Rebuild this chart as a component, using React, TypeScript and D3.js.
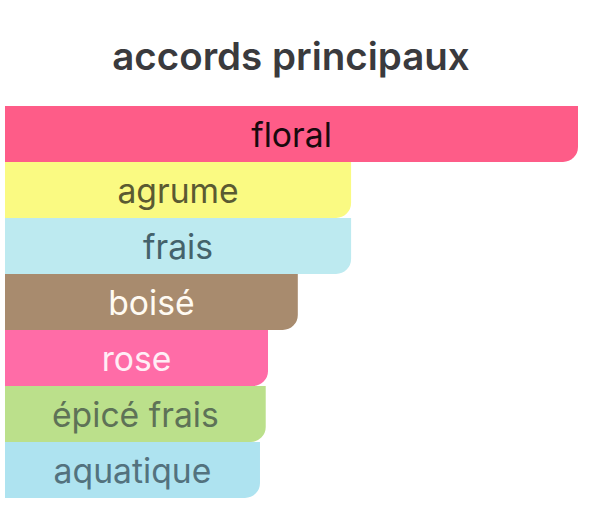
import React from "react";
import * as d3 from "d3";

const title = "accords principaux";
const categories = ["floral", "agrume", "frais", "boisé", "rose", "épicé frais", "aquatique"];
const values = [100, 60.4, 60.4, 51.1, 45.9, 45.5, 44.5];
const barColors = ["#FE5C88", "#FAFA82", "#BDEAF0", "#A88B6E", "#FF6CA7", "#BBE08B", "#AEE3F0"];
const textColors = ["#180a0e", "#5a5a32", "#44626b", "#fffaf2", "#ffeef6", "#5e7257", "#53727e"];

const W = 600;
const H = 505;
const left = 5;
const right = 578;
const top = 106;
const bottom = 498;
const r = 15;

function barPath(x0: number, y0: number, x1: number, y1: number, rad: number) {
  const p = d3.path();
  p.moveTo(x0, y0);
  p.lineTo(x1, y0);
  p.lineTo(x1, y1 - rad);
  p.arcTo(x1, y1, x1 - rad, y1, rad);
  p.lineTo(x0, y1);
  p.closePath();
  return p.toString();
}

export default function App() {
  const x = d3.scaleLinear().domain([0, 100]).range([left, right]);
  const y = d3.scaleBand<string>().domain(categories).range([top, bottom]).padding(0);
  const bh = y.bandwidth();
  return (
    <svg width={W} height={H} style={{ position: "absolute", left: 0, top: 0, background: "#fff" }}>
      <text
        x={291}
        y={69.5}
        textAnchor="middle"
        fontFamily="Inter, 'Liberation Sans', Arial, sans-serif"
        fontWeight={600}
        fontSize={38.5}
        fill="#3a3a3d"
      >
        {title}
      </text>
      {categories.map((c, i) => {
        const y0 = y(c)!;
        const x1 = x(values[i]);
        return (
          <g key={c}>
            <path d={barPath(left, y0, x1, y0 + bh, r)} fill={barColors[i]} />
            <text
              x={(left + x1) / 2}
              y={y0 + bh / 2 + 12.5}
              textAnchor="middle"
              fontFamily="Inter, 'Liberation Sans', Arial, sans-serif"
              fontSize={33.7}
              fill={textColors[i]}
            >
              {c}
            </text>
          </g>
        );
      })}
    </svg>
  );
}
